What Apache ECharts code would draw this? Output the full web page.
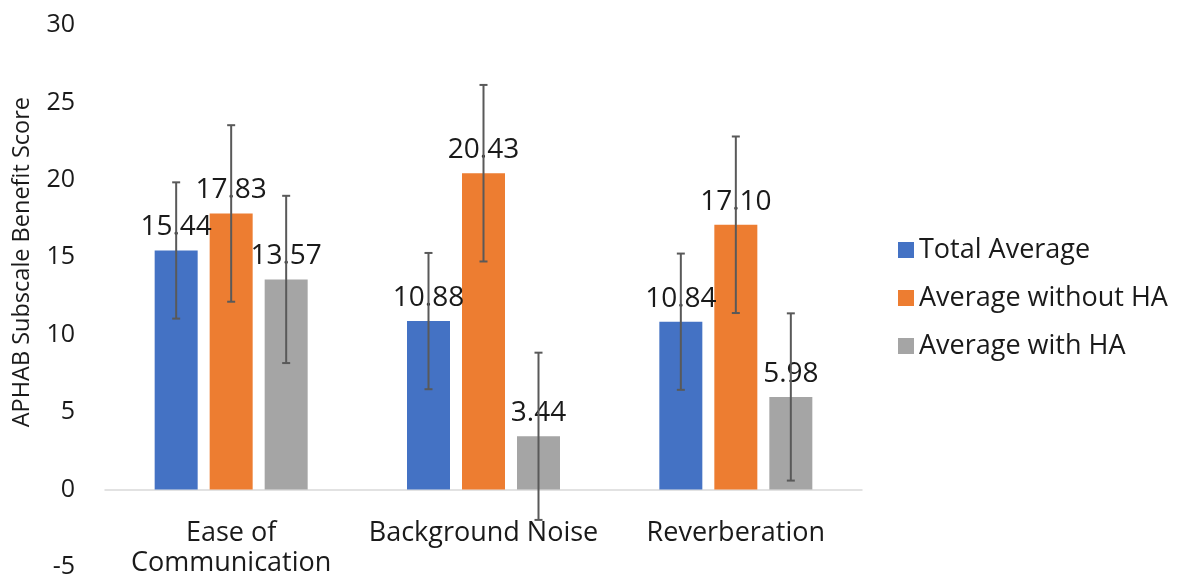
<!DOCTYPE html>
<html>
<head>
<meta charset="utf-8">
<script src="https://cdn.jsdelivr.net/npm/echarts@6/dist/echarts.min.js"></script>
<style>html,body{margin:0;padding:0;background:#fff;}#c{width:1177px;height:579px;}</style>
</head>
<body>
<div id="c"></div>
<script>
var categories = ['Ease of\nCommunication', 'Background Noise', 'Reverberation'];
var seriesNames = ['Total Average', 'Average without HA', 'Average with HA'];
var totalAvg = [15.44, 10.88, 10.84];
var withoutHA = [17.83, 20.43, 17.10];
var withHA = [13.57, 3.44, 5.98];
var errTotal = [4.4, 4.4, 4.4];
var errWithout = [5.7, 5.7, 5.7];
var errWith = [5.4, 5.4, 5.4];
var yTicks = [-5, 0, 5, 10, 15, 20, 25, 30];

var colors = ['#4472C4', '#ED7D31', '#A5A5A5'];
var values = [totalAvg, withoutHA, withHA];
var errors = [errTotal, errWithout, errWith];
var FONT = 'Open Sans';
var TEXT = '#1a1a1a';
var BAR_W = 43, BAR_GAP = 12;

var errData = [];
for (var s = 0; s < 3; s++) {
  for (var i = 0; i < categories.length; i++) {
    errData.push([i, values[s][i] - errors[s][i], values[s][i] + errors[s][i], s]);
  }
}

var chart = echarts.init(document.getElementById('c'));
var series = [];
for (var s = 0; s < 3; s++) {
  series.push({
    name: seriesNames[s],
    type: 'bar',
    data: values[s],
    barWidth: BAR_W,
    barGap: (BAR_GAP / BAR_W * 100) + '%',
    itemStyle: { color: colors[s] },
    label: {
      show: true, position: 'top', distance: 9,
      formatter: function (p) { return p.value.toFixed(2); },
      fontFamily: FONT, fontSize: 28, color: TEXT
    },
    z: 2
  });
}
series.push({
  type: 'custom',
  name: 'err',
  data: errData,
  z: 10,
  silent: true,
  clip: false,
  renderItem: function (params, api) {
    var cat = api.value(0), lo = api.value(1), hi = api.value(2), si = api.value(3);
    var off = (si - 1) * (BAR_W + BAR_GAP);
    var pLo = api.coord([cat, lo]);
    var pHi = api.coord([cat, hi]);
    var x = pLo[0] + off;
    var cap = 4;
    var st = { stroke: '#595959', lineWidth: 2 };
    return {
      type: 'group',
      children: [
        { type: 'line', shape: { x1: x, y1: pLo[1], x2: x, y2: pHi[1] }, style: st },
        { type: 'line', shape: { x1: x - cap, y1: pLo[1], x2: x + cap, y2: pLo[1] }, style: st },
        { type: 'line', shape: { x1: x - cap, y1: pHi[1], x2: x + cap, y2: pHi[1] }, style: st }
      ]
    };
  }
});

chart.setOption({
  animation: false,
  backgroundColor: '#fff',
  grid: { left: 105, right: 315, top: 25, bottom: 12, containLabel: false, outerBoundsMode: 'none' },
  legend: {
    data: seriesNames,
    orient: 'vertical',
    left: 893, top: 231,
    itemWidth: 16, itemHeight: 16, itemGap: 20,
    textStyle: { fontFamily: FONT, fontSize: 27, lineHeight: 28, color: TEXT, padding: [0, 0, 0, 0] },
    icon: 'rect'
  },
  xAxis: {
    type: 'category',
    data: categories,
    axisLine: { onZero: true, lineStyle: { color: '#d9d9d9', width: 1.5 } },
    axisTick: { show: false },
    axisLabel: { fontFamily: FONT, fontSize: 27, color: TEXT, margin: -49, lineHeight: 30, interval: 0 }
  },
  yAxis: {
    type: 'value',
    min: yTicks[0], max: yTicks[yTicks.length - 1], interval: 5,
    axisLine: { show: false },
    axisTick: { show: false },
    splitLine: { show: false },
    axisLabel: { fontFamily: FONT, fontSize: 25, color: TEXT, margin: 30 }
  },
  graphic: [{
    type: 'text',
    left: 10, top: 97,
    rotation: Math.PI / 2,
    style: { text: 'APHAB Subscale Benefit Score', fontFamily: FONT, fontSize: 23.5, fill: TEXT }
  }],
  series: series
});
</script>
</body>
</html>
